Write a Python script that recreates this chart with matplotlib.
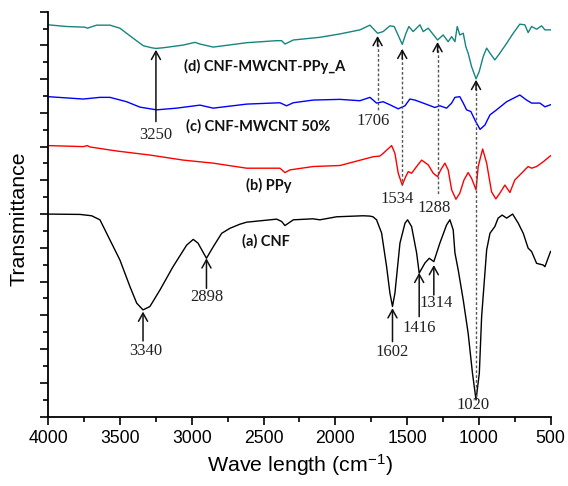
import matplotlib
matplotlib.use("Agg")
import matplotlib.pyplot as plt
from matplotlib.ticker import MultipleLocator

plt.rcParams["font.family"] = ["Liberation Sans", "DejaVu Sans"]
plt.rcParams["mathtext.default"] = "regular"

# (a) CNF
wn_a = [4000, 3779, 3698, 3640, 3570, 3501, 3431, 3384, 3340, 3292, 3222, 3131, 3036, 2990, 2957,
        2898, 2851, 2792, 2734, 2665, 2618, 2409, 2374, 2351, 2293, 2156, 2108, 1991, 1806, 1759,
        1738, 1713, 1678, 1643, 1620, 1602, 1585, 1550, 1515, 1497, 1469, 1434, 1416, 1376, 1346,
        1314, 1272, 1225, 1202, 1179, 1167, 1144, 1109, 1075, 1045, 1020, 997, 981, 946, 923,
        889, 866, 838, 807, 765, 726, 691, 657, 633, 598, 552, 540, 501]
t_a = [6.00, 5.99, 5.95, 5.83, 5.23, 4.64, 3.85, 3.36, 3.16, 3.26, 3.75, 4.44, 5.08, 5.25, 5.14,
       4.69, 5.03, 5.43, 5.58, 5.70, 5.76, 5.85, 5.78, 5.66, 5.83, 5.86, 5.83, 5.92, 5.95, 5.94,
       5.92, 5.83, 5.44, 4.44, 3.66, 3.26, 3.66, 5.14, 5.73, 5.83, 5.63, 4.85, 4.25, 4.55, 4.69,
       4.59, 5.14, 5.68, 5.83, 5.53, 4.85, 4.34, 3.45, 2.47, 1.29, 0.49, 1.29, 2.96, 4.94, 5.43,
       5.63, 5.88, 5.97, 5.88, 6.00, 5.73, 5.43, 4.99, 4.89, 4.54, 4.49, 4.44, 4.89]

# (b) PPy
wn_b = [4000, 3756, 3728, 3710, 3524, 3292, 3060, 2851, 2618, 2433, 2386, 2351, 2316, 2154, 1968,
        1852, 1736, 1690, 1667, 1608, 1585, 1562, 1534, 1510, 1492, 1469, 1434, 1399, 1353, 1318,
        1288, 1266, 1237, 1214, 1190, 1160, 1133, 1104, 1075, 1051, 1020, 1005, 974, 946, 912,
        882, 854, 819, 784, 750, 703, 657, 633, 598, 552, 501]
t_b = [8.03, 8.00, 8.03, 7.99, 7.87, 7.75, 7.60, 7.51, 7.36, 7.36, 7.36, 7.23, 7.31, 7.41, 7.44,
       7.57, 7.70, 7.72, 7.80, 8.03, 7.80, 7.21, 6.86, 7.11, 7.26, 7.21, 7.41, 7.60, 7.46, 7.21,
       7.11, 7.31, 7.51, 7.31, 6.72, 6.44, 6.62, 7.01, 7.23, 7.06, 6.72, 7.41, 7.93, 7.51, 6.66,
       6.45, 6.62, 6.86, 6.64, 7.01, 7.21, 7.41, 7.36, 7.41, 7.55, 7.73]

# (c) CNF-MWCNT 50%
wn_c = [4000, 3756, 3640, 3570, 3454, 3361, 3245, 3106, 2943, 2851, 2618, 2386, 2340, 2293, 2154,
        1968, 1829, 1759, 1713, 1667, 1620, 1562, 1515, 1481, 1446, 1388, 1307, 1272, 1225, 1190,
        1167, 1133, 1109, 1086, 1056, 1028, 992, 958, 923, 877, 807, 715, 668, 633, 575, 540, 501]
t_c = [9.48, 9.41, 9.46, 9.46, 9.33, 9.17, 9.09, 9.14, 9.23, 9.14, 9.26, 9.30, 9.21, 9.30, 9.38,
       9.40, 9.36, 9.46, 9.29, 9.33, 9.24, 9.12, 9.21, 9.41, 9.38, 9.29, 9.16, 9.21, 9.14, 9.29,
       9.46, 9.48, 9.29, 9.09, 9.04, 8.79, 8.51, 8.64, 8.94, 9.09, 9.33, 9.53, 9.38, 9.29, 9.29,
       9.18, 9.24]

# (d) CNF-MWCNT-PPy_A
wn_d = [4000, 3872, 3744, 3728, 3663, 3570, 3501, 3408, 3338, 3280, 3250, 3199, 3060, 2978, 2943,
        2851, 2618, 2409, 2374, 2351, 2293, 2108, 1968, 1829, 1759, 1706, 1667, 1620, 1590, 1534,
        1508, 1488, 1458, 1411, 1388, 1353, 1288, 1249, 1214, 1190, 1167, 1151, 1133, 1109, 1091,
        1075, 1051, 1020, 998, 970, 946, 923, 889, 854, 807, 761, 715, 680, 657, 633,
        598, 563, 540, 501]
t_d = [11.61, 11.56, 11.54, 11.51, 11.60, 11.60, 11.51, 11.21, 10.99, 10.93, 10.91, 10.93, 11.01, 11.09, 11.04,
       10.95, 11.08, 11.14, 11.14, 11.04, 11.16, 11.24, 11.34, 11.46, 11.60, 11.36, 11.41, 11.58, 11.56, 11.03,
       11.36, 11.56, 11.41, 11.61, 11.41, 11.51, 11.16, 11.31, 11.11, 11.26, 11.11, 11.56, 11.31, 11.36, 10.96,
       10.77, 10.37, 10.01, 10.22, 10.67, 10.92, 10.77, 10.57, 10.77, 11.06, 11.36, 11.63, 11.61, 11.38, 11.56,
       11.48, 11.58, 11.46, 11.46]

curve_names = ["(a) CNF", "(b) PPy", "(c) CNF-MWCNT 50%", "(d) CNF-MWCNT-PPy_A"]
curve_colors = ["black", "#ff0000", "#0000ff", "#16857f"]

# peaks marked with solid arrows pointing up at the band
solid_peaks = [3250, 3340, 2898, 1602, 1416, 1314]
solid_tip = [10.87, 3.11, 4.69, 3.21, 4.26, 4.49]
solid_tail = [8.74, 2.24, 3.80, 2.22, 2.96, 3.60]
solid_text_x = [3250, 3320, 2898, 1602, 1416, 1295]
solid_text_y = [8.33, 1.94, 3.53, 1.92, 2.61, 3.36]

# peaks marked with dashed guide lines from the top spectrum down
dash_peaks = [1706, 1534, 1288, 1020]
dash_tip = [11.28, 10.90, 11.10, 9.98]
dash_end = [9.09, 6.86, 6.57, 0.58]
dash_text_x = [1740, 1569, 1312, 1044]
dash_text_y = [8.77, 6.45, 6.17, 0.34]

fig = plt.figure(figsize=(5.68, 4.86), dpi=100)
ax = fig.add_axes([0.085, 0.143, 0.8845, 0.833])

series = [(wn_a, t_a), (wn_b, t_b), (wn_c, t_c), (wn_d, t_d)]
for (x, y), c in zip(series, curve_colors):
    ax.plot(x, y, color=c, lw=1.0)

label_x = [2484, 2463, 2541, 2491]
label_y = [5.18, 6.86, 8.59, 10.37]
for name, lx, ly in zip(curve_names, label_x, label_y):
    ax.text(lx, ly, name, family=["Lato", "DejaVu Sans"], fontweight="bold", fontsize=10.5,
            ha="center", va="center", color="#111111")

head = dict(arrowstyle="->, head_length=0.45, head_width=0.25", color="#111111", lw=1.1,
            shrinkA=0, shrinkB=0, mutation_scale=13)
serif = ["Liberation Serif", "DejaVu Serif"]

for p, tip, tail, tx, ty in zip(solid_peaks, solid_tip, solid_tail, solid_text_x, solid_text_y):
    ax.annotate("", xy=(p, tip), xytext=(p, tail), arrowprops=head)
    ax.text(tx, ty, str(p), family=serif, fontsize=12, ha="center", va="center", color="#222222")

for p, tip, end, tx, ty in zip(dash_peaks, dash_tip, dash_end, dash_text_x, dash_text_y):
    ax.plot([p, p], [tip - 0.1, end], color="#555555", lw=1.0, linestyle=(0, (2, 1.5)))
    ax.annotate("", xy=(p, tip), xytext=(p, tip - 0.3), arrowprops=head)
    ax.text(tx, ty, str(p), family=serif, fontsize=12, ha="center", va="center", color="#222222")

ax.set_xlim(4000, 500)
ax.set_ylim(0, 12)
ax.xaxis.set_major_locator(MultipleLocator(500))
ax.xaxis.set_minor_locator(MultipleLocator(250))
ax.yaxis.set_major_locator(MultipleLocator(1))
ax.yaxis.set_minor_locator(MultipleLocator(0.5))
ax.tick_params(axis="y", labelleft=False)
ax.tick_params(which="major", length=6, width=1.2, labelsize=12.7, direction="out")
ax.tick_params(which="minor", length=3.5, width=1.2, direction="out")
for s in ["top", "right"]:
    ax.spines[s].set_visible(False)
for s in ["left", "bottom"]:
    ax.spines[s].set_linewidth(1.3)

ax.set_xlabel("Wave length (cm$^{-1}$)", fontsize=15.4)
ax.set_ylabel("Transmittance", fontsize=15.4)
ax.yaxis.set_label_coords(-0.040, 0.488)

fig.savefig("out.png", dpi=100)
